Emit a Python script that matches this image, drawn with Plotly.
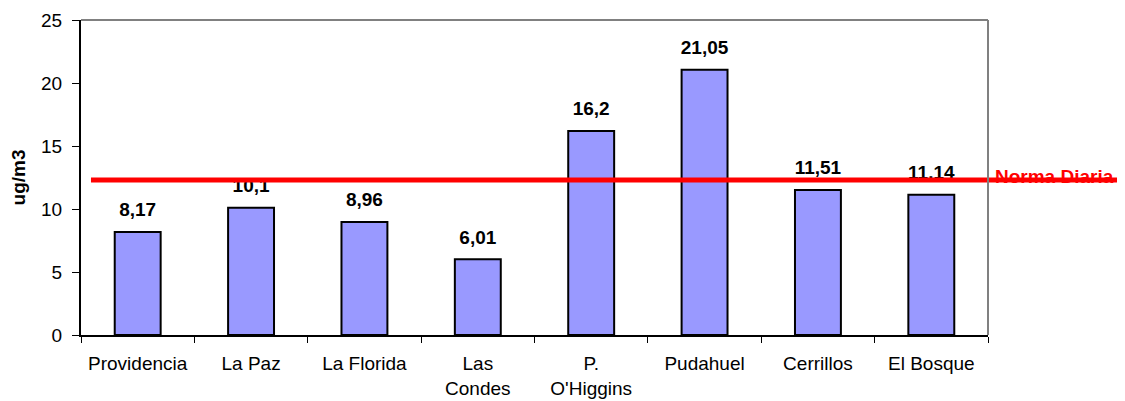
import plotly.graph_objects as go

categories = ["Providencia", "La Paz", "La Florida", "Las<br>Condes", "P.<br>O'Higgins",
              "Pudahuel", "Cerrillos", "El Bosque"]
values = [8.17, 10.1, 8.96, 6.01, 16.2, 21.05, 11.51, 11.14]
value_labels = ["8,17", "10,1", "8,96", "6,01", "16,2", "21,05", "11,51", "11.14"]
norma_value = 12.3
norma_label = "Norma Diaria"
y_ticks = [0, 5, 10, 15, 20, 25]
y_title = "ug/m3"

FONT = "Liberation Sans, Arial, sans-serif"

fig = go.Figure()
fig.add_trace(go.Bar(
    x=categories, y=values, width=0.405,
    marker=dict(color="#9999FF", line=dict(color="black", width=2)),
    hoverinfo="skip",
))
fig.add_trace(go.Scatter(
    x=categories, y=values, mode="markers+text",
    text=value_labels, textposition="top center",
    marker=dict(size=16, color="rgba(0,0,0,0)"),
    textfont=dict(family=FONT, size=19, color="black", weight="bold"),
    cliponaxis=False, hoverinfo="skip",
))

# red norm line extending past plot area
fig.add_shape(type="line", xref="paper", yref="y", x0=0.011, x1=1.2,
              y0=norma_value, y1=norma_value,
              line=dict(color="#FF0000", width=5), layer="above")
# gray frame top/right
fig.add_shape(type="line", xref="paper", yref="paper", x0=0, x1=1, y0=1, y1=1,
              line=dict(color="#808080", width=2), layer="above")
fig.add_shape(type="line", xref="paper", yref="paper", x0=1, x1=1, y0=0, y1=1,
              line=dict(color="#808080", width=2), layer="above")

fig.add_annotation(xref="paper", yref="y", x=1.0, y=norma_value, xshift=5, yshift=4,
                   xanchor="left", yanchor="middle", showarrow=False,
                   text="<b>" + norma_label + "</b>",
                   font=dict(family=FONT, size=19, color="#FF0000"))

fig.update_layout(
    width=1117, height=393,
    margin=dict(l=73, r=137, t=12, b=66, autoexpand=False),
    paper_bgcolor="white", plot_bgcolor="white",
    showlegend=False,
    font=dict(family=FONT, size=19, color="black"),
)
fig.update_xaxes(
    type="category", showgrid=False, showline=True, linecolor="black", linewidth=2,
    ticks="outside", tickson="boundaries", ticklen=6, tickcolor="black", tickwidth=1,
    tickfont=dict(family=FONT, size=19, color="black"), ticklabelstandoff=10,
    tickangle=0, automargin=False,
    range=[-0.5, 7.5],
)
fig.update_yaxes(
    range=[0, 25], tickvals=y_ticks, showgrid=False, zeroline=False,
    showline=True, linecolor="black", linewidth=2,
    ticks="outside", ticklen=7, tickcolor="black", tickwidth=1,
    tickfont=dict(family=FONT, size=19, color="black"), ticklabelstandoff=6,
    automargin=False,
    title=dict(text="<b>" + y_title + "</b>", font=dict(family=FONT, size=19, color="black"),
               standoff=12),
)

fig.write_html("out.html")
